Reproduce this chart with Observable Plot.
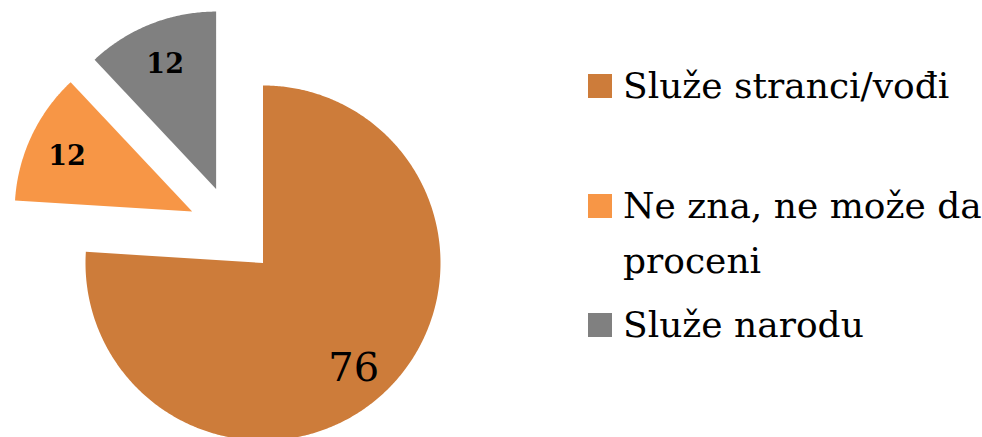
<!DOCTYPE html>
<html>
<head>
<meta charset="utf-8">
<script src="https://cdn.jsdelivr.net/npm/d3@7"></script>
<script src="https://cdn.jsdelivr.net/npm/@observablehq/plot@0.6"></script>
<style>
  html, body { margin: 0; padding: 0; background: #fff; }
  #wrap { position: relative; width: 982px; height: 437px; overflow: hidden; }
  #legend { position: absolute; left: 588px; top: 58px; display: grid; grid-template-rows: repeat(3, 119.5px); font-family: "DejaVu Serif", serif; font-size: 36px; line-height: 55px; color: #000; }
  .item { display: flex; align-items: flex-start; }
  .sw { width: 24px; height: 24px; margin-top: 16px; margin-right: 11px; flex: none; }
  .lbl { max-width: 370px; }
</style>
</head>
<body>
<div id="wrap"><div id="chart"></div><div id="legend"></div></div>
<script>
// ---- data ----
const categories = ["Služe stranci/vođi", "Ne zna, ne može da proceni", "Služe narodu"];
const values = [76, 12, 12];
const colors = ["#CD7C3A", "#F79646", "#808080"];

// ---- layout (pixels) ----
const W = 982, H = 437;
const cx = 232, cy = 230, R = 177.5;   // pie centre and radius
const explode = 0.251;                 // slice offset, in radii
const labelR = 0.78;                   // label distance, in radii

const rows = categories.map((c, i) => ({cat: c, value: values[i]}));
const arcs = d3.pie().sort(null).value(d => d.value)(rows);

const pts = [];
const labels = [];
arcs.forEach((a, i) => {
  const mid = (a.startAngle + a.endAngle) / 2;
  const ox = explode * Math.sin(mid), oy = explode * Math.cos(mid);
  pts.push({cat: a.data.cat, x: ox, y: oy});
  const n = Math.ceil((a.endAngle - a.startAngle) / (Math.PI / 360));
  for (let k = 0; k <= n; k++) {
    const t = a.startAngle + (a.endAngle - a.startAngle) * k / n;
    pts.push({cat: a.data.cat, x: ox + Math.sin(t), y: oy + Math.cos(t)});
  }
  labels.push({i, cat: a.data.cat, value: a.data.value,
    x: ox + labelR * Math.sin(mid), y: oy + labelR * Math.cos(mid)});
});

const chart = Plot.plot({
  width: W, height: H, margin: 0,
  x: {domain: [-cx / R, (W - cx) / R], axis: null},
  y: {domain: [-(H - cy) / R, cy / R], axis: null},
  color: {domain: categories, range: colors},
  marks: [
    Plot.line(pts, {x: "x", y: "y", z: "cat", fill: "cat", stroke: "none", curve: "linear-closed"}),
    Plot.text(labels.filter(d => d.i === 0), {x: "x", y: "y", text: d => String(d.value), fill: "#000",
      fontSize: 40, fontFamily: "DejaVu Serif", dx: -4, dy: 4}),
    Plot.text(labels.filter(d => d.i !== 0), {x: "x", y: "y", text: d => String(d.value), fill: "#000",
      fontSize: 27, fontWeight: "bold", fontFamily: "DejaVu Serif", dy: 4})
  ]
});
document.getElementById("chart").appendChild(chart);

// legend built from the same arrays / colour scale
const legend = document.getElementById("legend");
categories.forEach((c, i) => {
  const item = document.createElement("div");
  item.className = "item";
  const sw = document.createElement("div");
  sw.className = "sw";
  sw.style.background = chart.scale("color").apply(c);
  const lb = document.createElement("div");
  lb.className = "lbl";
  lb.textContent = c;
  item.appendChild(sw); item.appendChild(lb);
  legend.appendChild(item);
});
</script>
</body>
</html>
